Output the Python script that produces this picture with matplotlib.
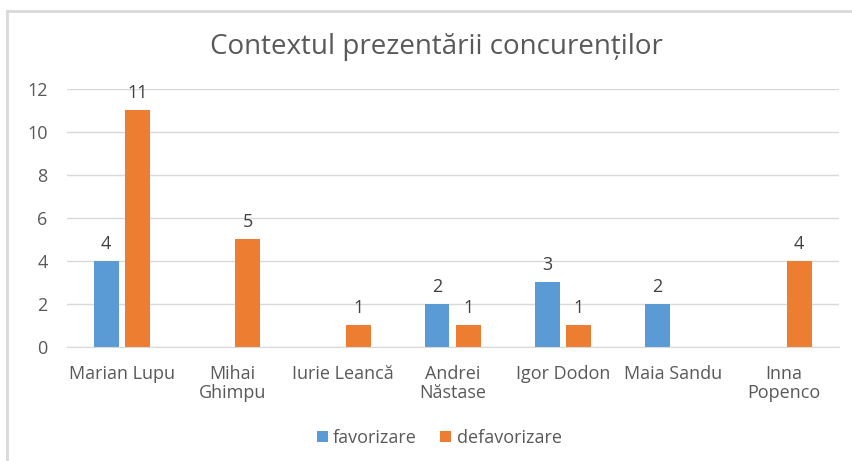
import matplotlib.pyplot as plt
import numpy as np
from matplotlib.lines import Line2D

# candidates and how each was presented
candidati = ["Marian Lupu", "Mihai\nGhimpu", "Iurie Leancă", "Andrei\nNăstase",
             "Igor Dodon", "Maia Sandu", "Inna\nPopenco"]
favorizare = [4, 0, 0, 2, 3, 2, 0]
defavorizare = [11, 5, 1, 1, 1, 0, 4]
yticks = [0, 2, 4, 6, 8, 10, 12]

plt.rcParams['font.family'] = ['Open Sans', 'DejaVu Sans']
gri = '#595959'

fig = plt.figure(figsize=(8.53, 4.61), dpi=100)
ax = fig.add_axes([0.0785, 0.2473, 0.905, 0.5597])

x = np.arange(len(candidati))
w = 0.225
b1 = ax.bar(x - 0.145, favorizare, w, color='#5b9bd5', label='favorizare')
b2 = ax.bar(x + 0.14, defavorizare, w, color='#ed7d31', label='defavorizare')

# value labels only where there is a bar
for bars, vals in [(b1, favorizare), (b2, defavorizare)]:
    for r, v in zip(bars, vals):
        if v > 0:
            ax.annotate(str(v), (r.get_x() + r.get_width() / 2, v), xytext=(0, 6),
                        textcoords='offset points', ha='center', va='bottom',
                        fontsize=13, color='#404040')

ax.set_xlim(-0.5, len(candidati) - 0.5)
ax.set_ylim(0, 12)
ax.set_yticks(yticks)
ax.set_xticks(x)
ax.set_xticklabels(candidati, fontsize=13, color=gri, linespacing=1.1)
ax.tick_params(axis='y', labelsize=13, labelcolor=gri, length=0, pad=14)
ax.tick_params(axis='x', length=0, pad=13)
ax.yaxis.grid(True, color='#d9d9d9', linewidth=1)
ax.set_axisbelow(True)
for s in ['top', 'right', 'left']:
    ax.spines[s].set_visible(False)
ax.spines['bottom'].set_color('#d9d9d9')

fig.text(0.512, 0.898, 'Contextul prezentării concurenților', ha='center', va='center',
         fontsize=20, color=gri)

fig.legend(loc='center', bbox_to_anchor=(0.515, 0.05), ncol=2, frameon=False,
           fontsize=13, labelcolor=gri, handlelength=0.6, handleheight=0.6,
           handletextpad=0.3, columnspacing=1.3)

# chart area frame
fig.add_artist(Line2D([0.0082, 0.0082], [0, 0.976], color='#d9d9d9', linewidth=2))
fig.add_artist(Line2D([0.0082, 1], [0.976, 0.976], color='#d9d9d9', linewidth=2))

fig.savefig('out.png', dpi=100)
